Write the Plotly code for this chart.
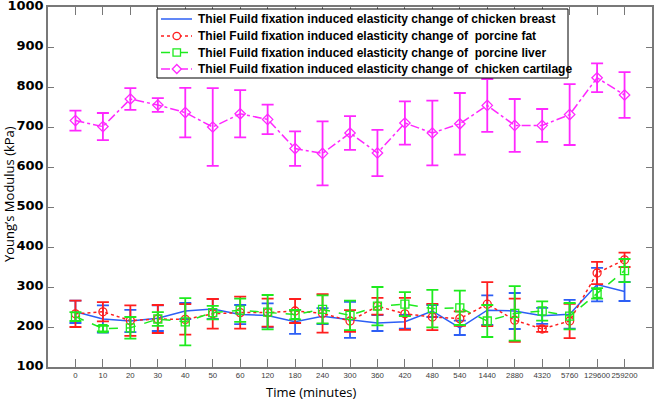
import plotly.graph_objects as go

times = ["0", "10", "20", "30", "40", "50", "60", "120", "180", "240", "300",
         "360", "420", "480", "540", "1440", "2880", "4320", "5760", "129600", "259200"]

breast = [238, 220, 215, 222, 240, 245, 231, 229, 213, 227, 218, 210, 213, 240, 198, 242, 240, 228, 232, 306, 289]
breast_err = [28, 34, 28, 32, 20, 25, 24, 30, 30, 20, 45, 20, 17, 15, 18, 37, 45, 20, 36, 42, 24]

fat = [233, 238, 216, 220, 219, 233, 236, 236, 240, 234, 215, 252, 233, 225, 221, 257, 217, 195, 215, 335, 368]
fat_err = [33, 24, 38, 35, 38, 37, 40, 35, 30, 48, 27, 21, 40, 33, 18, 55, 54, 7, 43, 28, 18]

liver = [226, 196, 198, 220, 213, 236, 242, 237, 231, 244, 229, 252, 257, 246, 248, 215, 234, 240, 227, 284, 341]
liver_err = [11, 7, 27, 17, 59, 17, 29, 43, 12, 35, 37, 48, 30, 47, 43, 40, 68, 24, 33, 13, 29]

cartilage = [716, 701, 770, 755, 736, 700, 733, 719, 646, 634, 685, 635, 710, 685, 708, 754, 704, 704, 731, 823, 780]
cartilage_err = [25, 34, 27, 17, 62, 97, 59, 37, 43, 80, 42, 58, 54, 81, 77, 66, 66, 41, 76, 36, 57]

names = [
    "Thiel Fuild fixation induced elasticity change of chicken breast",
    "Thiel Fuild fixation induced elasticity change of  porcine fat",
    "Thiel Fuild fixation induced elasticity change of  porcine liver",
    "Thiel Fuild fixation induced elasticity change of  chicken cartilage",
]

colors = ["rgb(45,95,245)", "rgb(255,30,30)", "rgb(30,235,30)", "rgb(255,40,255)"]
dashes = ["solid", "dot", "dash", "dashdot"]
symbols = [None, "circle-open", "square-open", "diamond-open"]
values = [breast, fat, liver, cartilage]
errors = [breast_err, fat_err, liver_err, cartilage_err]

W, H = 654, 402
ML, MR, MT, MB = 48, 2, 7, 35
PW, PH = W - ML - MR, H - MT - MB


def fx(px):
    return (px - ML) / PW


def fy(py):
    return (H - MB - py) / PH


fig = go.Figure()
for vals, errs, col, dash, sym, name in zip(values, errors, colors, dashes, symbols, names):
    fig.add_trace(go.Scatter(
        x=times, y=vals, name=name, showlegend=False,
        mode="lines+markers" if sym else "lines",
        line=dict(color=col, width=1.5, dash=dash),
        marker=dict(symbol=sym or "circle", size=8, color=col, line=dict(color=col, width=1.3)),
        error_y=dict(type="data", array=errs, visible=True, color=col, thickness=1.8, width=6),
    ))

# legend box (drawn manually to match the compact row spacing)
shapes = [dict(type="rect", xref="paper", yref="paper",
               x0=fx(157), x1=fx(568), y0=fy(78), y1=fy(9),
               line=dict(color="black", width=1), fillcolor="white", layer="above")]
annotations = []
row_y = [19, 36, 52.5, 69]
for ry, col, dash, sym, name in zip(row_y, colors, dashes, symbols, names):
    shapes.append(dict(type="line", xref="paper", yref="paper",
                       x0=fx(161), x1=fx(192), y0=fy(ry), y1=fy(ry),
                       line=dict(color=col, width=1.5, dash=dash), layer="above"))
    if sym == "circle-open":
        shapes.append(dict(type="circle", xref="paper", yref="paper",
                           x0=fx(173), x1=fx(180.5), y0=fy(ry + 3.7), y1=fy(ry - 3.7),
                           line=dict(color=col, width=1.3), fillcolor="white", layer="above"))
    elif sym == "square-open":
        shapes.append(dict(type="rect", xref="paper", yref="paper",
                           x0=fx(173), x1=fx(180.5), y0=fy(ry + 3.7), y1=fy(ry - 3.7),
                           line=dict(color=col, width=1.3), fillcolor="white", layer="above"))
    elif sym == "diamond-open":
        cx = 176.8
        path = "M {a},{b} L {c},{d} L {a},{e} L {f},{d} Z".format(
            a=fx(cx), b=fy(ry - 4.5), c=fx(cx + 4.5), d=fy(ry), e=fy(ry + 4.5), f=fx(cx - 4.5))
        shapes.append(dict(type="path", xref="paper", yref="paper", path=path,
                           line=dict(color=col, width=1.3), fillcolor="white", layer="above"))
    annotations.append(dict(text=name, xref="paper", yref="paper", x=fx(196), y=fy(ry),
                            xanchor="left", yanchor="middle", showarrow=False,
                            font=dict(size=12, family="Liberation Sans, Arial, sans-serif",
                                      color="black", weight="bold")))

annotations.append(dict(text="Time (minutes)", xref="paper", yref="paper",
                        x=fx(311), y=fy(392), xanchor="center", yanchor="middle", showarrow=False,
                        font=dict(size=13, family="Open Sans, sans-serif", color="black")))
annotations.append(dict(text="Young’s Modulus (kPa)", xref="paper", yref="paper",
                        x=fx(9), y=fy(194), xanchor="center", yanchor="middle", showarrow=False,
                        textangle=-90,
                        font=dict(size=13, family="Open Sans, sans-serif", color="black")))

fig.update_layout(
    width=W, height=H,
    margin=dict(l=ML, r=MR, t=MT, b=MB, autoexpand=False),
    paper_bgcolor="white", plot_bgcolor="white",
    font=dict(family="Liberation Sans, Arial, sans-serif", color="black"),
    showlegend=False,
    shapes=shapes, annotations=annotations,
)
fig.update_xaxes(
    type="category", range=[-1, 21], automargin=False, tickangle=0,
    showline=True, linecolor="rgb(120,120,120)", linewidth=1.5, mirror="ticks",
    ticks="inside", ticklen=8, tickcolor="rgb(120,120,120)",
    showgrid=False, zeroline=False,
    tickfont=dict(size=7.8, color="rgb(60,60,60)", family="Liberation Sans, sans-serif"),
)
fig.update_yaxes(
    range=[100, 1000], dtick=100, automargin=False, ticklabeloverflow="allow",
    ticklabelshift=-2,
    showline=True, linecolor="rgb(120,120,120)", linewidth=1.5, mirror="ticks",
    ticks="inside", ticklen=6, tickcolor="rgb(120,120,120)",
    showgrid=False, zeroline=False,
    tickfont=dict(size=13, color="black", family="DejaVu Sans, sans-serif", weight="bold"),
)

fig.write_html("out.html", config={"displayModeBar": False},
               post_script="document.body.style.margin='0px';")
